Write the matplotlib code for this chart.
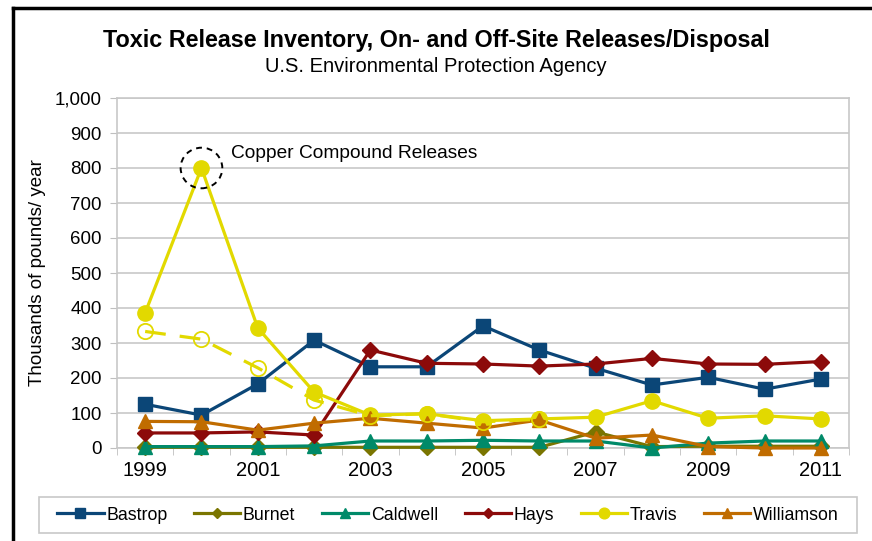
import matplotlib
matplotlib.use("Agg")
import matplotlib.pyplot as plt
from matplotlib.patches import Ellipse, Rectangle
from matplotlib.lines import Line2D
import numpy as np

plt.rcParams['font.family'] = ['Liberation Sans', 'DejaVu Sans']

years = [1999, 2000, 2001, 2002, 2003, 2004, 2005, 2006, 2007, 2008, 2009, 2010, 2011]
bastrop = [125, 94, 183, 308, 232, 232, 349, 280, 228, 180, 202, 168, 197]
burnet = [2, 2, 2, 2, 2, 2, 2, 2, 46, 4, 5, 5, 5]
caldwell = [4, 4, 4, 6, 20, 20, 22, 20, 20, 0, 14, 20, 20]
hays = [43, 43, 46, 37, 280, 242, 240, 234, 240, 256, 240, 239, 247]
travis = [386, 800, 343, 160, 94, 98, 78, 83, 88, 135, 85, 92, 83]
williamson = [76, 75, 51, 71, 85, 71, 57, 80, 28, 37, 4, 0, 0]
travis_no_copper = [333, 311, 229, 137, 92, 98, 75, 82]

xtick_labels = ['1999', '', '2001', '', '2003', '', '2005', '', '2007', '', '2009', '', '2011']

series = [
    ('Bastrop', bastrop, '#0b4677', 's', 10),
    ('Burnet', burnet, '#7a7500', 'D', 8),
    ('Caldwell', caldwell, '#008a69', '^', 10),
    ('Hays', hays, '#8c0a0a', 'D', 8),
    ('Travis', travis, '#e2d900', 'o', 11),
    ('Williamson', williamson, '#c06c00', '^', 10),
]

fig = plt.figure(figsize=(8.72, 5.41), dpi=100)
W, H = 872, 541
ax = fig.add_axes([117 / W, 1 - 448 / H, (849 - 117) / W, (448 - 98) / H])

x = np.arange(len(years))
for name, vals, col, mk, ms in series:
    ax.plot(x, vals, color=col, lw=2.3, marker=mk, ms=ms, mfc=col, mec=col,
            label=name, zorder=3, clip_on=False)

xd = np.arange(len(travis_no_copper))
ax.plot(xd, travis_no_copper, color='#e2d900', lw=2.3, dashes=(6.5, 4.4),
        marker='o', ms=11, mfc='none', mec='#e2d900', mew=1.3, zorder=4)

ax.add_patch(Ellipse((1, 800), width=0.74, height=116, fill=False, ec='black',
                     lw=1.4, ls=(0, (3, 2.5)), zorder=5))
ax.text(1.53, 840, 'Copper Compound Releases', fontsize=13.8, ha='left', va='center')

ax.set_xlim(-0.5, len(years) - 0.5)
ax.set_ylim(0, 1000)
ax.set_yticks(np.arange(0, 1001, 100))
ax.set_yticklabels([f'{v:,}' for v in range(0, 1001, 100)], fontsize=13.5)
ax.set_xticks(x)
ax.set_xticklabels(xtick_labels, fontsize=14.5)
ax.set_xticks(np.arange(-0.5, len(years)), minor=True)
ax.tick_params(axis='x', which='major', length=0, pad=9)
ax.tick_params(axis='x', which='minor', length=5, color='#bfbfbf', direction='out')
ax.tick_params(axis='y', length=5, color='#bfbfbf', direction='out', pad=6)
ax.grid(axis='y', color='#c8c8c8', lw=1.2)
ax.set_axisbelow(True)
for side in ['left', 'bottom', 'right', 'top']:
    ax.spines[side].set_color('#c8c8c8')
    ax.spines[side].set_linewidth(1.2)
ax.set_ylabel('Thousands of pounds/ year', fontsize=13.5, labelpad=6)

fig.text(0.5, 1 - 40 / H, 'Toxic Release Inventory, On- and Off-Site Releases/Disposal',
         ha='center', va='center', fontsize=16.8, fontweight='bold')
fig.text(0.5, 1 - 66 / H, 'U.S. Environmental Protection Agency',
         ha='center', va='center', fontsize=14.5)

handles, labels = ax.get_legend_handles_labels()
leg = fig.legend(handles, labels, ncol=6, loc='center',
                 bbox_to_anchor=((39 + 857) / 2 / W, 1 - 515 / H),
                 fontsize=12.8, frameon=False, handlelength=2.6,
                 columnspacing=1.5, handletextpad=0.15, borderpad=0.3,
                 borderaxespad=0, markerscale=0.7)
fig.add_artist(Rectangle((39 / W, 1 - 533 / H), (857 - 39) / W, 36 / H,
                         transform=fig.transFigure, fill=False,
                         ec='#c8c8c8', lw=1.2))

fig.add_artist(Line2D([13 / W, 13 / W], [0, 1 - 8 / H], color='black', lw=2.5,
                      transform=fig.transFigure))
fig.add_artist(Line2D([13 / W, 1], [1 - 8 / H, 1 - 8 / H], color='black', lw=2.5,
                      transform=fig.transFigure))

fig.savefig('out.png', dpi=100)
